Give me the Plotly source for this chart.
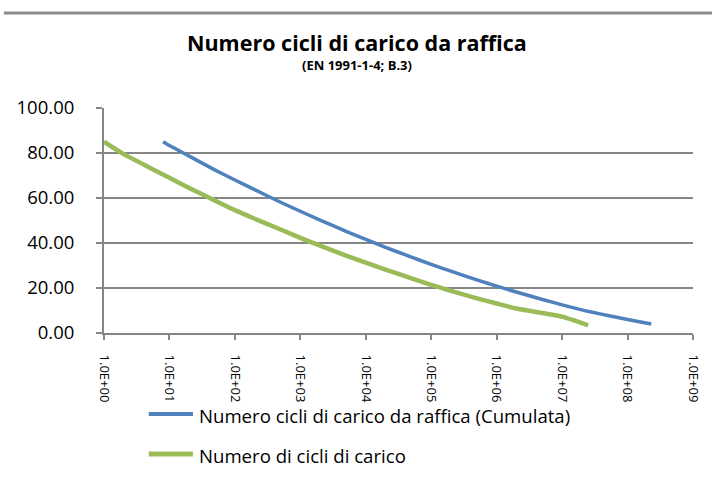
import plotly.graph_objects as go

# Cicli di carico (N) e variazione di sollecitazione (% di Sk)
n_cumulata = [8, 10, 20, 50, 100, 200, 500, 1e3, 2e3, 5e3, 1e4, 2e4, 5e4,
              1e5, 2e5, 5e5, 1e6, 2e6, 5e6, 1e7, 2e7, 5e7, 1e8, 2.3e8]
ds_cumulata = [85.0, 83.3, 78.6, 72.4, 68.0, 63.7, 58.1, 54.1, 50.2, 45.2, 41.6,
               38.1, 33.7, 30.5, 27.5, 23.6, 20.8, 18.2, 14.9, 12.5, 10.3, 7.8,
               6.0, 4.0]

n_cicli = [1, 2, 5, 10, 20, 50, 100, 200, 500, 1e3, 2e3, 5e3, 1e4, 2e4, 5e4,
           1e5, 2e5, 5e5, 1e6, 2e6, 5e6, 1e7, 1.6e7, 2.5e7]
ds_cicli = [85.0, 79.5, 73.5, 69.0, 64.5, 58.8, 54.6, 50.8, 46.0, 42.3, 38.8,
            34.4, 31.3, 28.2, 24.3, 21.4, 18.7, 15.4, 13.1, 10.9, 8.9, 7.3,
            5.4, 3.4]

x_tick_vals = [1e0, 1e1, 1e2, 1e3, 1e4, 1e5, 1e6, 1e7, 1e8, 1e9]
x_tick_text = ["1.0E+00", "1.0E+01", "1.0E+02", "1.0E+03", "1.0E+04",
               "1.0E+05", "1.0E+06", "1.0E+07", "1.0E+08", "1.0E+09"]

series = [
    dict(name="Numero cicli di carico da raffica (Cumulata)",
         x=n_cumulata, y=ds_cumulata, color="#4F81BD", width=3.5),
    dict(name="Numero di cicli di carico",
         x=n_cicli, y=ds_cicli, color="#9BBB59", width=4.5),
]

FONT = "'Open Sans', sans-serif"
GRID = "#868686"

fig = go.Figure()
for s in series:
    fig.add_trace(go.Scatter(
        x=s["x"], y=s["y"], mode="lines", name=s["name"],
        line=dict(color=s["color"], width=s["width"], shape="spline",
                  smoothing=0.6),
        showlegend=False,
    ))

# Legend drawn below the plot: a short line sample followed by the label
shapes = [dict(type="line", xref="paper", yref="paper",
               x0=-0.17, x1=1.04, y0=1.422, y1=1.422,
               line=dict(color="#8C8C8C", width=3))]
annotations = [
    dict(text="<b>Numero cicli di carico da raffica</b>",
         xref="paper", yref="paper", x=0.43, y=1.293,
         xanchor="center", yanchor="middle", showarrow=False,
         font=dict(size=21.5, family=FONT, color="#000000")),
    dict(text="<b>(EN 1991-1-4; B.3)</b>",
         xref="paper", yref="paper", x=0.43, y=1.19,
         xanchor="center", yanchor="middle", showarrow=False,
         font=dict(size=13, family=FONT, color="#000000")),
]
legend_y = [-0.36, -0.538]
for s, ly in zip(series, legend_y):
    shapes.append(dict(type="line", xref="paper", yref="paper",
                       x0=0.076, x1=0.151, y0=ly, y1=ly,
                       line=dict(color=s["color"], width=s["width"] + 0.5)))
    annotations.append(dict(text=s["name"], xref="paper", yref="paper",
                            x=0.158, y=ly - 0.006, xanchor="left", yanchor="middle",
                            showarrow=False,
                            font=dict(size=18.6, family=FONT, color="#000000")))

fig.update_layout(
    width=712, height=480,
    margin=dict(l=104, r=19, t=108, b=147, autoexpand=False),
    paper_bgcolor="white", plot_bgcolor="white",
    font=dict(family=FONT, color="#000000"),
    showlegend=False,
    shapes=shapes,
    annotations=annotations,
)

fig.update_xaxes(
    type="log", range=[0, 9], automargin=False,
    tickvals=x_tick_vals, ticktext=x_tick_text, tickangle=90,
    ticks="outside", ticklen=5, tickcolor=GRID, tickwidth=2,
    ticklabelstandoff=12,
    showline=True, linecolor=GRID, linewidth=2,
    showgrid=False, zeroline=False,
    tickfont=dict(size=13, family=FONT),
)
fig.update_yaxes(
    range=[0, 100], dtick=20, tickformat=".2f", automargin=False,
    ticks="outside", ticklen=6, tickcolor=GRID, tickwidth=2,
    ticklabelstandoff=18,
    showline=True, linecolor=GRID, linewidth=2,
    showgrid=True, gridcolor=GRID, gridwidth=2, zeroline=False,
    tickfont=dict(size=18.5, family=FONT),
)

fig.write_html("out.html")
